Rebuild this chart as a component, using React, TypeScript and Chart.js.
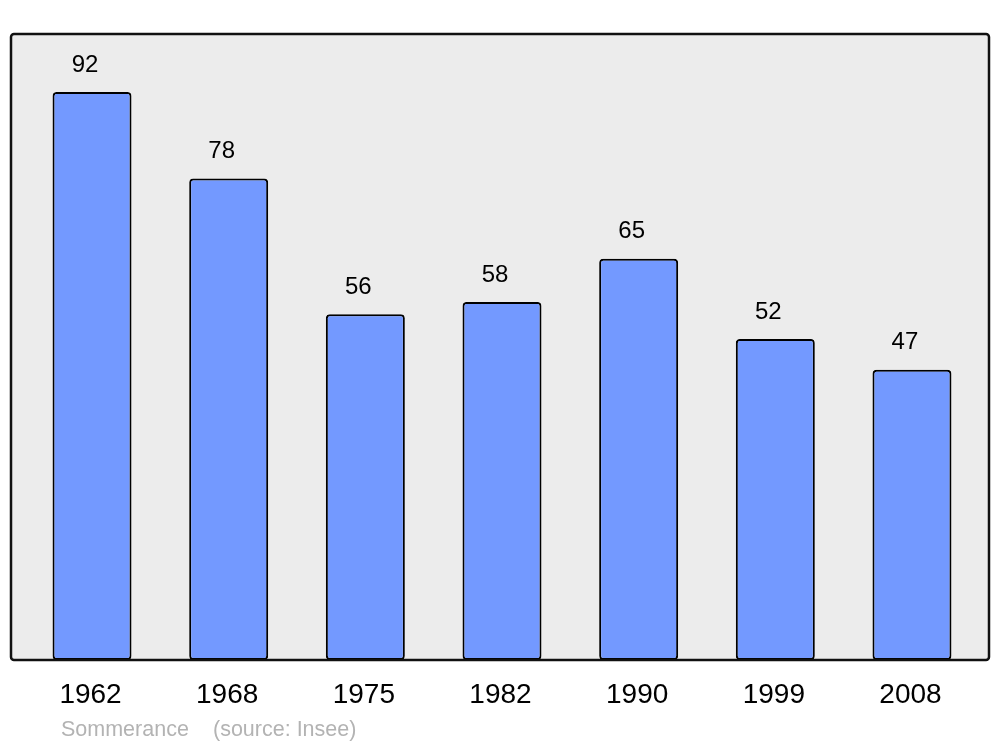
import React, { useEffect, useRef } from "react";
import { Chart, registerables } from "chart.js";

Chart.register(...registerables);

const categories: string[] = ["1962", "1968", "1975", "1982", "1990", "1999", "2008"];
const populationValues: number[] = [92, 78, 56, 58, 65, 52, 47];
const townName = "Sommerance";
const sourceText = "(source: Insee)";

const FONT = "'Liberation Sans', Arial, sans-serif";

const framePlugin = {
  id: "framePlugin",
  beforeDatasetsDraw(chart: any) {
    const ctx = chart.ctx;
    ctx.save();
    ctx.beginPath();
    ctx.roundRect(11, 34, 978, 626, 3);
    ctx.fillStyle = "#ececec";
    ctx.fill();
    ctx.restore();
  },
  afterDatasetsDraw(chart: any) {
    const ctx = chart.ctx;
    const xScale = chart.scales.x;
    const yScale = chart.scales.y;
    ctx.save();
    ctx.beginPath();
    ctx.roundRect(11, 34, 978, 626, 3);
    ctx.lineWidth = 2.5;
    ctx.strokeStyle = "#111";
    ctx.stroke();

    ctx.textAlign = "center";
    ctx.textBaseline = "middle";
    ctx.fillStyle = "#000";
    ctx.font = `24px ${FONT}`;
    populationValues.forEach((v, i) => {
      const x = xScale.getPixelForValue(i);
      const y = yScale.getPixelForValue(v);
      ctx.fillText(String(v), x - 7, y - 27);
    });
    ctx.font = `28px ${FONT}`;
    categories.forEach((c, i) => {
      const x = xScale.getPixelForValue(i);
      ctx.fillText(c, x - 1.5, 695);
    });
    ctx.textAlign = "left";
    ctx.fillStyle = "#b3b3b3";
    ctx.font = `21.5px ${FONT}`;
    ctx.fillText(townName, 61, 730);
    ctx.fillText(sourceText, 213, 730);
    ctx.restore();
  },
};

export default function App() {
  const ref = useRef<HTMLCanvasElement>(null);
  useEffect(() => {
    document.body.style.margin = "0";
    const chart = new Chart(ref.current!, {
      type: "bar",
      data: {
        labels: categories,
        datasets: [
          {
            data: populationValues,
            backgroundColor: "#7399ff",
            borderColor: "#000",
            borderWidth: 2,
            borderRadius: 4,
            borderSkipped: false,
            categoryPercentage: 1,
            barPercentage: 0.578,
          },
        ],
      },
      options: {
        responsive: false,
        animation: false,
        layout: { padding: { left: 23.7, right: 19.7, top: 34, bottom: 87 } },
        plugins: { legend: { display: false }, tooltip: { enabled: false } },
        scales: {
          x: { display: false },
          y: { display: false, min: 0, max: 101.4 },
        },
      },
      plugins: [framePlugin],
    });
    return () => chart.destroy();
  }, []);
  return (
    <div style={{ position: "absolute", left: 0, top: 0, width: 1000, height: 747, background: "#fff" }}>
      <canvas ref={ref} width={1000} height={747} style={{ display: "block" }} />
    </div>
  );
}
